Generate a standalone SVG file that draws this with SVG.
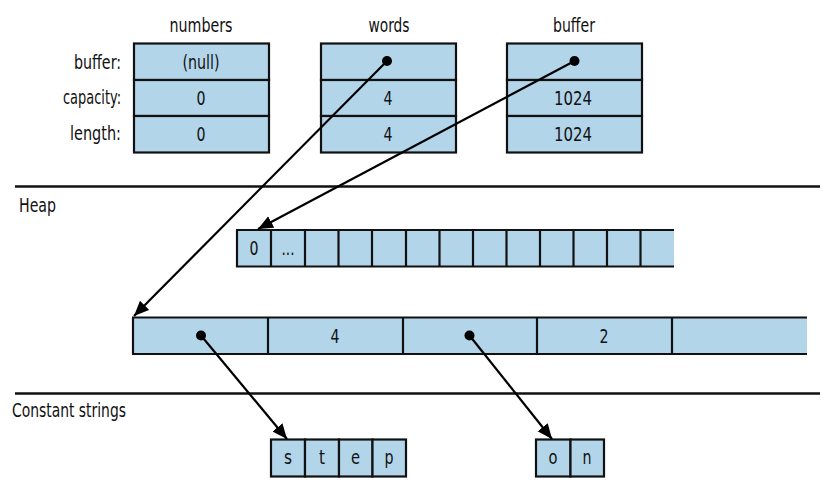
<svg xmlns="http://www.w3.org/2000/svg" width="838" height="484" viewBox="0 0 838 484">
<style>
text{font-family:"DejaVu Sans Condensed","DejaVu Sans","Liberation Sans",sans-serif;font-stretch:condensed;font-size:20px;fill:#111}
.c{text-anchor:middle}
.r{text-anchor:end}
.cell{fill:#b3d5ea;stroke:#111;stroke-width:2.2}
.fill{fill:#b3d5ea;stroke:none}
.ln{stroke:#111;stroke-width:2.2;fill:none}
.sep{stroke:#111;stroke-width:2.5}
.arr{stroke:#000;stroke-width:2.2;fill:none;marker-end:url(#ah)}
.dot{fill:#000}
</style>
<defs>
<marker id="ah" markerUnits="userSpaceOnUse" markerWidth="17" markerHeight="14" refX="15" refY="6.5" orient="auto">
<path d="M0,0 L15,6.5 L0,13 Z" fill="#000"/>
</marker>
</defs>

<g id="labels">
<text class="r" x="121" y="69" textLength="47" lengthAdjust="spacingAndGlyphs">buffer:</text>
<text class="r" x="121" y="104" textLength="58" lengthAdjust="spacingAndGlyphs">capacity:</text>
<text class="r" x="121" y="140" textLength="51" lengthAdjust="spacingAndGlyphs">length:</text>
<text x="19" y="212" textLength="37" lengthAdjust="spacingAndGlyphs">Heap</text>
<text x="12" y="417" textLength="114" lengthAdjust="spacingAndGlyphs">Constant strings</text>
</g>

<g id="separators">
<line class="sep" x1="15" y1="186.5" x2="820" y2="186.5"/>
<line class="sep" x1="15" y1="393.5" x2="820" y2="393.5"/>
</g>

<g id="numbers">
<text class="c" x="201" y="32" textLength="63" lengthAdjust="spacingAndGlyphs">numbers</text>
<rect class="cell" x="134" y="43.5" width="135" height="36.5"/>
<rect class="cell" x="134" y="80" width="135" height="36"/>
<rect class="cell" x="134" y="116" width="135" height="36.5"/>
<text class="c" x="201" y="69" textLength="37" lengthAdjust="spacingAndGlyphs">(null)</text>
<text class="c" x="201" y="105" textLength="9" lengthAdjust="spacingAndGlyphs">0</text>
<text class="c" x="201" y="141" textLength="9" lengthAdjust="spacingAndGlyphs">0</text>
</g>

<g id="words">
<text class="c" x="389" y="32" textLength="41" lengthAdjust="spacingAndGlyphs">words</text>
<rect class="cell" x="321" y="43.5" width="135" height="36.5"/>
<rect class="cell" x="321" y="80" width="135" height="36"/>
<rect class="cell" x="321" y="116" width="135" height="36.5"/>
<text class="c" x="388" y="105" textLength="9" lengthAdjust="spacingAndGlyphs">4</text>
<text class="c" x="388" y="141" textLength="9" lengthAdjust="spacingAndGlyphs">4</text>
</g>

<g id="buffer">
<text class="c" x="574" y="32" textLength="42" lengthAdjust="spacingAndGlyphs">buffer</text>
<rect class="cell" x="507" y="43.5" width="135" height="36.5"/>
<rect class="cell" x="507" y="80" width="135" height="36"/>
<rect class="cell" x="507" y="116" width="135" height="36.5"/>
<text class="c" x="573" y="105" textLength="38" lengthAdjust="spacingAndGlyphs">1024</text>
<text class="c" x="573" y="141" textLength="38" lengthAdjust="spacingAndGlyphs">1024</text>
</g>

<g id="heap-buffer">
<rect class="fill" x="237" y="230" width="437" height="37"/>
<line class="ln" x1="236" y1="230" x2="674" y2="230"/>
<line class="ln" x1="236" y1="266.5" x2="674" y2="266.5"/>
<path class="ln" d="M237,230V267M271,230V267M305,230V267M338.5,230V267M372,230V267M406,230V267M439.5,230V267M473,230V267M506.5,230V267M540,230V267M573.5,230V267M607,230V267M640.5,230V267"/>
<text class="c" x="254" y="255" textLength="9" lengthAdjust="spacingAndGlyphs">0</text>
<text class="c" x="288" y="255" textLength="13" lengthAdjust="spacingAndGlyphs">...</text>
</g>

<g id="heap-words">
<rect class="fill" x="133" y="317.5" width="674" height="36.5"/>
<line class="ln" x1="132" y1="317.5" x2="807" y2="317.5"/>
<line class="ln" x1="132" y1="354" x2="807" y2="354"/>
<path class="ln" d="M133,317.5V354M268,317.5V354M403,317.5V354M537,317.5V354M672,317.5V354"/>
<text class="c" x="335" y="343" textLength="9" lengthAdjust="spacingAndGlyphs">4</text>
<text class="c" x="604" y="343" textLength="9" lengthAdjust="spacingAndGlyphs">2</text>
</g>

<g id="str-step">
<rect class="cell" x="271" y="439.5" width="34" height="37"/>
<rect class="cell" x="305" y="439.5" width="34" height="37"/>
<rect class="cell" x="339" y="439.5" width="33.5" height="37"/>
<rect class="cell" x="372.5" y="439.5" width="33.5" height="37"/>
<text class="c" x="288" y="464" textLength="8" lengthAdjust="spacingAndGlyphs">s</text>
<text class="c" x="322" y="464" textLength="6" lengthAdjust="spacingAndGlyphs">t</text>
<text class="c" x="355.5" y="464" textLength="9" lengthAdjust="spacingAndGlyphs">e</text>
<text class="c" x="389" y="464" textLength="9" lengthAdjust="spacingAndGlyphs">p</text>
</g>

<g id="str-on">
<rect class="cell" x="536" y="439.5" width="34.5" height="37"/>
<rect class="cell" x="570.5" y="439.5" width="33.5" height="37"/>
<text class="c" x="553" y="464" textLength="9" lengthAdjust="spacingAndGlyphs">o</text>
<text class="c" x="587" y="464" textLength="9" lengthAdjust="spacingAndGlyphs">n</text>
</g>

<g id="connectors">
<circle class="dot" cx="387" cy="61" r="5"/>
<circle class="dot" cx="574.5" cy="61" r="5"/>
<circle class="dot" cx="201" cy="335.5" r="5"/>
<circle class="dot" cx="469.5" cy="335.5" r="5"/>
<line class="arr" x1="387" y1="61" x2="134" y2="316"/>
<line class="arr" x1="574.5" y1="61" x2="258" y2="229"/>
<line class="arr" x1="201" y1="335.5" x2="287" y2="439"/>
<line class="arr" x1="469.5" y1="335.5" x2="552" y2="439"/>
</g>
</svg>
